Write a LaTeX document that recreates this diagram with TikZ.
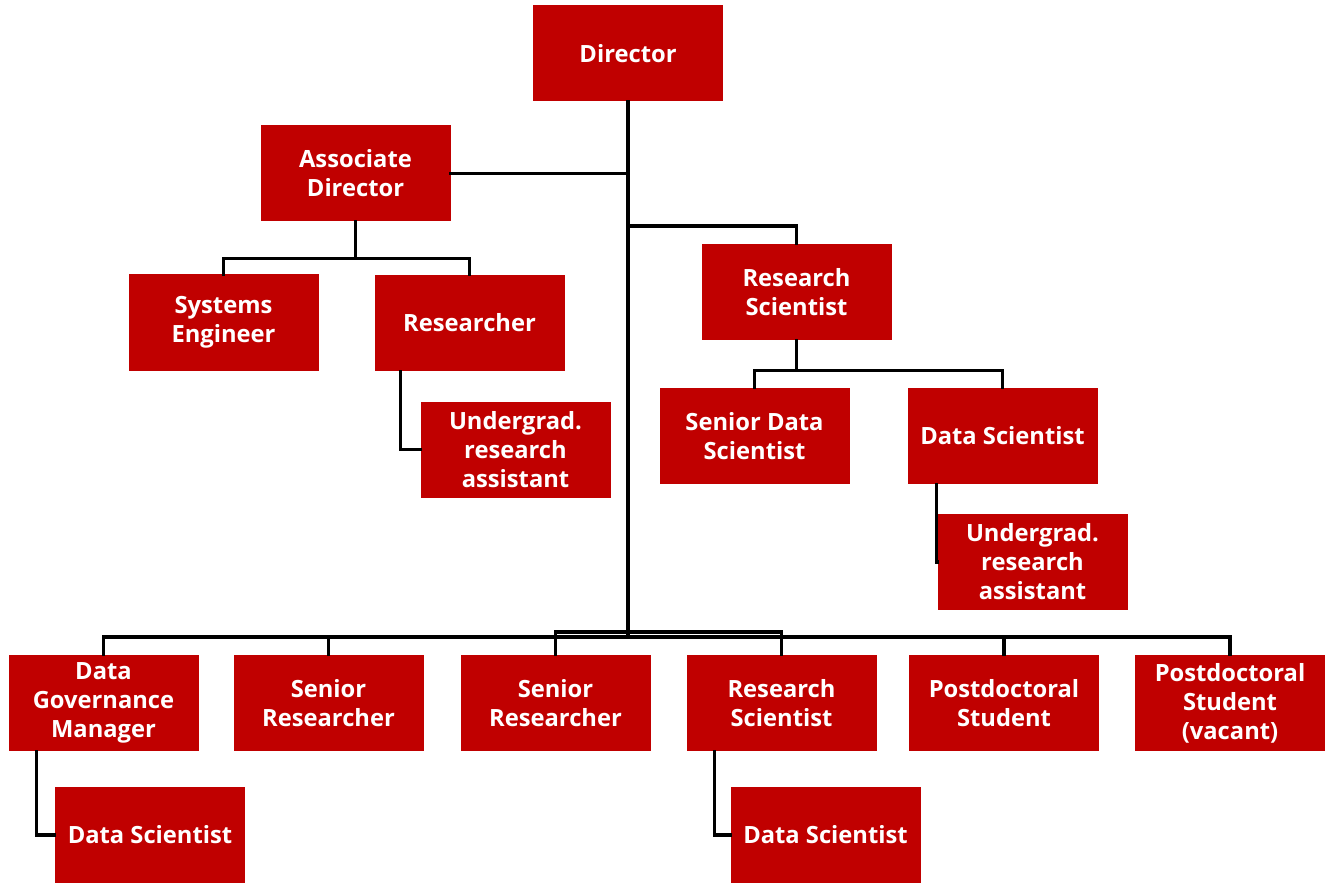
\documentclass[tikz,border=0pt]{standalone}
\usepackage{fontspec}
\setmainfont{Open Sans}
\begin{document}
\begin{tikzpicture}[x=0.75pt,y=-0.75pt,
  box/.style={fill={rgb,255:red,192;green,0;blue,0}, draw=none, minimum width=142.5pt, minimum height=72pt,
    text=white, font=\fontsize{17.8}{21.75}\selectfont\bfseries, align=center, inner sep=0pt},
  conn/.style={line width=2.3pt, line cap=rect, line join=miter}]
\useasboundingbox (0,0) rectangle (1331,884);
\node[box] (dir) at (628,53.5) {Director};
\node[box] (ad) at (355.5,173.5) {Associate\\Director};
\node[box] (se) at (223.5,322.5) {Systems\\Engineer};
\node[box] (res) at (469.5,323) {Researcher};
\node[box] (ura) at (515.5,449.5) {Undergrad.\\research\\assistant};
\node[box] (rs) at (796.5,292) {Research\\Scientist};
\node[box] (sds) at (754.5,436) {Senior Data\\Scientist};
\node[box] (ds) at (1002.5,436) {Data Scientist};
\node[box] (urb) at (1032.5,562) {Undergrad.\\research\\assistant};
\node[box] (dgm) at (103.5,703) {Data\\Governance\\Manager};
\node[box] (sr1) at (328.5,703) {Senior\\Researcher};
\node[box] (sr2) at (555.5,703) {Senior\\Researcher};
\node[box] (rs2) at (781.5,703) {Research\\Scientist};
\node[box] (pd) at (1004,703) {Postdoctoral\\Student};
\node[box] (pdv) at (1230,703) {Postdoctoral\\Student\\(vacant)};
\node[box] (ds1) at (150,835) {Data Scientist};
\node[box] (ds2) at (825.5,835) {Data Scientist};
% trunk
\coordinate (tb) at (628,632);
\draw[conn] (dir.south) -- (tb);
\draw[conn] (ad.east) -- (ad.east -| tb);
\draw[conn] (628,226) -| (rs.north);
\draw[conn] (ad.south) -- ++(0,37) -| (se.north);
\draw[conn] (ad.south) ++(0,37) -| (res.north);
\draw[conn] ([xshift=20]res.south west) |- (ura.west);
\draw[conn] (rs.south) -- ++(0,30) -| (sds.north);
\draw[conn] (rs.south) ++(0,30) -| (ds.north);
\draw[conn] ([xshift=22]ds.south west) |- (urb.west);
% bottom bus
\draw[conn] (tb) -- (628,637);
\draw[conn] (dgm.north) |- (pdv.north |- 0,637) -- (pdv.north);
\draw[conn] (sr1.north) -- (sr1.north |- 0,637);
\draw[conn] (pd.north) -- (pd.north |- 0,637);
\draw[conn] (sr2.north) |- (tb) -| (rs2.north);
\draw[conn] ([xshift=21]dgm.south west) |- (ds1.west);
\draw[conn] ([xshift=21]rs2.south west) |- (ds2.west);
\end{tikzpicture}
\end{document}
